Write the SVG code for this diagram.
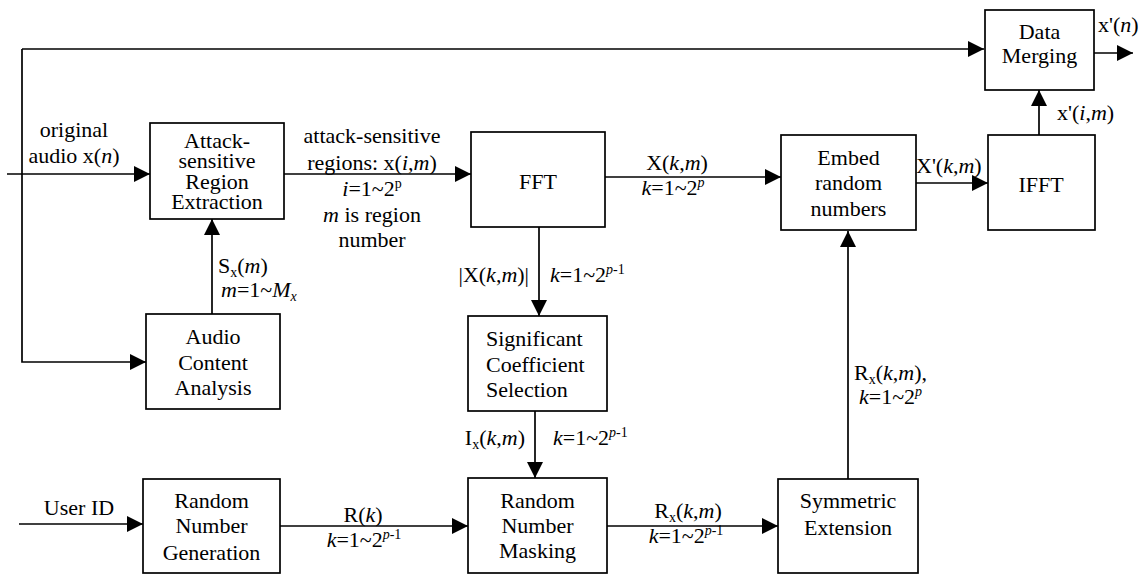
<svg xmlns="http://www.w3.org/2000/svg" width="1146" height="574" viewBox="0 0 1146 574" font-family="Liberation Serif" font-size="22">
<style>
.c{text-anchor:middle}
.e{text-anchor:end}
.i{font-style:italic}
.s{font-size:14px}
rect{fill:#fff;stroke:#000;stroke-width:1.7}
.ln{fill:none;stroke:#000;stroke-width:1.7;marker-end:url(#ah)}
</style>
<defs>
<marker id="ah" markerUnits="userSpaceOnUse" markerWidth="16" markerHeight="16" refX="16" refY="8" orient="auto">
<path d="M0,0 L16,8 L0,16 Z" fill="#000"/>
</marker>
</defs>
<g id="connectors">
<path class="ln" d="M7,174 H150"/>
<path class="ln" d="M22,49 H984"/>
<path class="ln" d="M22,49 V362 H146"/>
<path class="ln" d="M284,174 H471"/>
<path class="ln" d="M605,177 H781"/>
<path class="ln" d="M916,183 H988"/>
<path class="ln" d="M1039,135 V90"/>
<path class="ln" d="M1094,53 H1133"/>
<path class="ln" d="M212,314 V219"/>
<path class="ln" d="M539,227 V316"/>
<path class="ln" d="M535,411 V478"/>
<path class="ln" d="M19,524 H143"/>
<path class="ln" d="M280,526 H468"/>
<path class="ln" d="M607,526 H778"/>
<path class="ln" d="M848,479 V231"/>
</g>
<g id="labels">
<text font-family="Liberation Serif" class="c" x="74" y="137">original</text>
<text font-family="Liberation Serif" class="c" x="74" y="163">audio x(<tspan class="i">n</tspan>)</text>
<text font-family="Liberation Serif" class="c" x="372" y="143">attack-sensitive</text>
<text font-family="Liberation Serif" class="c" x="372" y="170">regions: x(<tspan class="i">i</tspan>,<tspan class="i">m</tspan>)</text>
<text font-family="Liberation Serif" class="c" x="372" y="196"><tspan class="i">i</tspan>=1~2<tspan class="s" dy="-8">p</tspan></text>
<text font-family="Liberation Serif" class="c" x="372" y="222"><tspan class="i">m</tspan> is region</text>
<text font-family="Liberation Serif" class="c" x="372" y="247">number</text>
<text font-family="Liberation Serif" class="c" x="677" y="170">X(<tspan class="i">k</tspan>,<tspan class="i">m</tspan>)</text>
<text font-family="Liberation Serif" class="c" x="673" y="195"><tspan class="i">k</tspan>=1~2<tspan class="s i" dy="-8">p</tspan></text>
<text font-family="Liberation Serif" x="916" y="173">X'(<tspan class="i">k</tspan>,<tspan class="i">m</tspan>)</text>
<text font-family="Liberation Serif" x="1057" y="120">x'(<tspan class="i">i</tspan>,<tspan class="i">m</tspan>)</text>
<text font-family="Liberation Serif" x="1098" y="32">x'(<tspan class="i">n</tspan>)</text>
<text font-family="Liberation Serif" x="218" y="273">S<tspan class="s" dy="4">x</tspan><tspan dy="-4">(</tspan><tspan class="i">m</tspan>)</text>
<text font-family="Liberation Serif" x="221" y="297"><tspan class="i">m</tspan>=1~<tspan class="i">M</tspan><tspan class="s i" dy="4">x</tspan></text>
<text font-family="Liberation Serif" class="e" x="529" y="282">|X(<tspan class="i">k</tspan>,<tspan class="i">m</tspan>)|</text>
<text font-family="Liberation Serif" x="550" y="282"><tspan class="i">k</tspan>=1~2<tspan class="s" dy="-8"><tspan class="i">p</tspan>-1</tspan></text>
<text font-family="Liberation Serif" class="e" x="525" y="445">I<tspan class="s" dy="4">x</tspan><tspan dy="-4">(</tspan><tspan class="i">k</tspan>,<tspan class="i">m</tspan>)</text>
<text font-family="Liberation Serif" x="553" y="445"><tspan class="i">k</tspan>=1~2<tspan class="s" dy="-8"><tspan class="i">p</tspan>-1</tspan></text>
<text font-family="Liberation Serif" x="854" y="380">R<tspan class="s" dy="4">x</tspan><tspan dy="-4">(</tspan><tspan class="i">k</tspan>,<tspan class="i">m</tspan>),</text>
<text font-family="Liberation Serif" x="859" y="404"><tspan class="i">k</tspan>=1~2<tspan class="s i" dy="-8">p</tspan></text>
<text font-family="Liberation Serif" class="c" x="79" y="515">User ID</text>
<text font-family="Liberation Serif" class="c" x="363" y="522">R(<tspan class="i">k</tspan>)</text>
<text font-family="Liberation Serif" class="c" x="364" y="547"><tspan class="i">k</tspan>=1~2<tspan class="s" dy="-8"><tspan class="i">p</tspan>-1</tspan></text>
<text font-family="Liberation Serif" class="c" x="688" y="518">R<tspan class="s" dy="4">x</tspan><tspan dy="-4">(</tspan><tspan class="i">k</tspan>,<tspan class="i">m</tspan>)</text>
<text font-family="Liberation Serif" class="c" x="686" y="543"><tspan class="i">k</tspan>=1~2<tspan class="s" dy="-8"><tspan class="i">p</tspan>-1</tspan></text>
</g>
<g id="attack">
<rect x="150" y="123" width="134" height="96"/>
<text font-family="Liberation Serif" class="c" x="217" y="148">Attack-</text>
<text font-family="Liberation Serif" class="c" x="217" y="168">sensitive</text>
<text font-family="Liberation Serif" class="c" x="217" y="189">Region</text>
<text font-family="Liberation Serif" class="c" x="217" y="209">Extraction</text>
</g>
<g id="fft">
<rect x="471" y="132" width="134" height="95"/>
<text font-family="Liberation Serif" class="c" x="538" y="189">FFT</text>
</g>
<g id="embed">
<rect x="781" y="135" width="135" height="95"/>
<text font-family="Liberation Serif" class="c" x="848.5" y="165">Embed</text>
<text font-family="Liberation Serif" class="c" x="848.5" y="190">random</text>
<text font-family="Liberation Serif" class="c" x="848.5" y="216">numbers</text>
</g>
<g id="ifft">
<rect x="988" y="135" width="107" height="95"/>
<text font-family="Liberation Serif" class="c" x="1041" y="192">IFFT</text>
</g>
<g id="merge">
<rect x="985" y="10" width="109" height="80"/>
<text font-family="Liberation Serif" class="c" x="1039.5" y="39">Data</text>
<text font-family="Liberation Serif" class="c" x="1039.5" y="63">Merging</text>
</g>
<g id="aca">
<rect x="146" y="314" width="134" height="95"/>
<text font-family="Liberation Serif" class="c" x="213" y="344">Audio</text>
<text font-family="Liberation Serif" class="c" x="213" y="370">Content</text>
<text font-family="Liberation Serif" class="c" x="213" y="395">Analysis</text>
</g>
<g id="scs">
<rect x="468" y="316" width="139" height="95"/>
<text font-family="Liberation Serif" x="486" y="346">Significant</text>
<text font-family="Liberation Serif" x="486" y="372">Coefficient</text>
<text font-family="Liberation Serif" x="486" y="397">Selection</text>
</g>
<g id="rng">
<rect x="143" y="479" width="137" height="94"/>
<text font-family="Liberation Serif" class="c" x="211.5" y="508">Random</text>
<text font-family="Liberation Serif" class="c" x="211.5" y="533">Number</text>
<text font-family="Liberation Serif" class="c" x="211.5" y="560">Generation</text>
</g>
<g id="rnm">
<rect x="468" y="478" width="139" height="95"/>
<text font-family="Liberation Serif" class="c" x="537.5" y="508">Random</text>
<text font-family="Liberation Serif" class="c" x="537.5" y="533">Number</text>
<text font-family="Liberation Serif" class="c" x="537.5" y="558">Masking</text>
</g>
<g id="se">
<rect x="778" y="479" width="140" height="94"/>
<text font-family="Liberation Serif" class="c" x="848" y="508">Symmetric</text>
<text font-family="Liberation Serif" class="c" x="848" y="535">Extension</text>
</g>
</svg>
